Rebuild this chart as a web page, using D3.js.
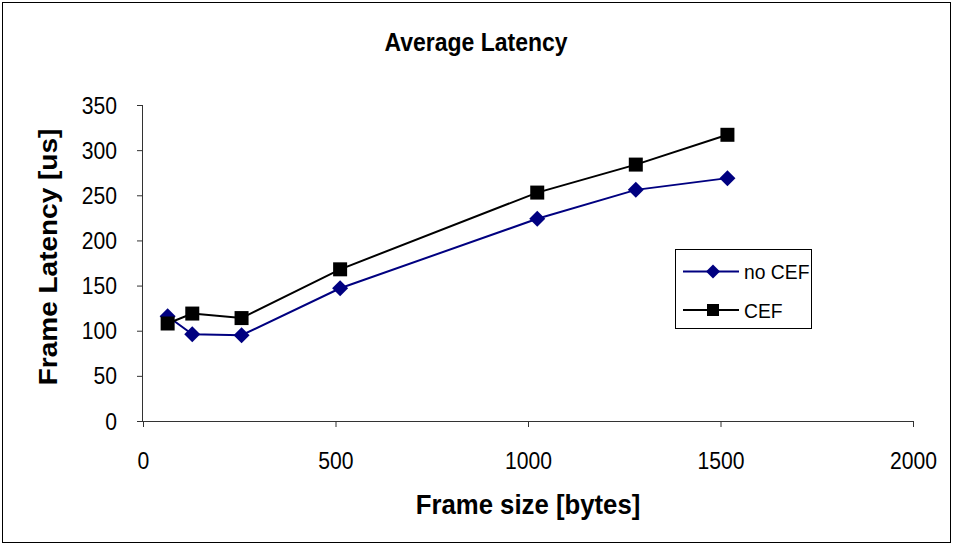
<!DOCTYPE html>
<html>
<head>
<meta charset="utf-8">
<script src="https://cdn.jsdelivr.net/npm/d3@7"></script>
<style>
  html, body { margin: 0; padding: 0; background: #fff; }
  svg text { font-family: Arial, "Liberation Sans", sans-serif; fill: #000; }
</style>
</head>
<body>
<div id="chart"></div>
<script>
// frame sizes in bytes
const frameSizes = [64, 128, 256, 512, 1024, 1280, 1518];
const noCef = [116, 96, 95, 147, 224, 256, 269];
const cef = [108, 119, 114, 168, 253, 284, 317];
const xTicks = [0, 500, 1000, 1500, 2000];
const yTicks = [0, 50, 100, 150, 200, 250, 300, 350];
const seriesNames = ["no CEF", "CEF"];

const W = 953, H = 545;
const plot = { left: 143, right: 913, top: 105, bottom: 421 };
const squeeze = 0.92; // the original text is a bit narrower than Arial

const svg = d3.select("#chart").append("svg")
  .attr("width", W)
  .attr("height", H);

// outer chart border
svg.append("rect")
  .attr("x", 2.5).attr("y", 2.5)
  .attr("width", W - 5).attr("height", H - 5)
  .attr("fill", "#fff")
  .attr("stroke", "#000")
  .attr("stroke-width", 1);

const x = d3.scaleLinear().domain([0, 2000]).range([plot.left, plot.right]);
const y = d3.scaleLinear().domain([0, 350]).range([plot.bottom, plot.top]);

svg.append("g")
  .attr("transform", `translate(0,${plot.bottom})`)
  .call(d3.axisBottom(x).tickValues(xTicks).tickSize(6).tickPadding(0).tickFormat(d3.format("d")))
  .call(g => g.select(".domain").attr("d", `M${plot.left},0.5H${plot.right}`).attr("stroke", "#333"))
  .call(g => g.selectAll(".tick line").attr("stroke", "#333"))
  .call(g => g.selectAll(".tick text")
    .attr("font-size", 23).attr("font-family", "Arial, 'Liberation Sans', sans-serif")
    .attr("dy", null).attr("y", 48)
    .attr("transform", `scale(${squeeze},1)`));

svg.append("g")
  .attr("transform", `translate(${plot.left},0)`)
  .call(d3.axisLeft(y).tickValues(yTicks).tickSize(6).tickPadding(0))
  .call(g => g.select(".domain").attr("d", `M-0.5,${plot.bottom}V${plot.top}`).attr("stroke", "#333"))
  .call(g => g.selectAll(".tick line").attr("stroke", "#333"))
  .call(g => g.selectAll(".tick text")
    .attr("font-size", 23).attr("font-family", "Arial, 'Liberation Sans', sans-serif")
    .attr("dy", null).attr("y", 8)
    .attr("x", -26 / squeeze)
    .attr("transform", `scale(${squeeze},1)`));

// titles
svg.append("text")
  .attr("transform", `translate(476,51) scale(${squeeze},1)`)
  .attr("text-anchor", "middle")
  .attr("font-size", 25).attr("font-weight", "bold")
  .text("Average Latency");

svg.append("text")
  .attr("transform", `translate(528,514) scale(${squeeze},1)`)
  .attr("text-anchor", "middle")
  .attr("font-size", 28).attr("font-weight", "bold")
  .text("Frame size [bytes]");

svg.append("text")
  .attr("transform", `translate(57,257) rotate(-90) scale(1,${squeeze})`)
  .attr("text-anchor", "middle")
  .attr("font-size", 28).attr("font-weight", "bold")
  .text("Frame Latency [us]");

const line = d3.line().x(d => x(d[0])).y(d => y(d[1]));
const diamond = r => `M0,${-r}L${r},0L0,${r}L${-r},0Z`;
const square = s => `M${-s / 2},${-s / 2}h${s}v${s}h${-s}Z`;

const series = [
  { name: seriesNames[0], values: noCef, color: "#000080", marker: diamond(8), legendMarker: diamond(7) },
  { name: seriesNames[1], values: cef, color: "#000000", marker: square(14), legendMarker: square(12) }
];

series.forEach(s => {
  const pts = frameSizes.map((f, i) => [f, s.values[i]]);
  svg.append("path")
    .datum(pts)
    .attr("fill", "none")
    .attr("stroke", s.color)
    .attr("stroke-width", 2)
    .attr("d", line);
  svg.append("g").selectAll("path")
    .data(pts)
    .join("path")
    .attr("transform", d => `translate(${x(d[0])},${y(d[1])})`)
    .attr("d", s.marker)
    .attr("fill", s.color);
});

// legend
const legend = svg.append("g");
legend.append("rect")
  .attr("x", 675.5).attr("y", 249.5)
  .attr("width", 136).attr("height", 79)
  .attr("fill", "#fff").attr("stroke", "#000");

series.forEach((s, i) => {
  const ly = 271.5 + i * 38.5;
  legend.append("line")
    .attr("x1", 683).attr("x2", 739)
    .attr("y1", ly).attr("y2", ly)
    .attr("stroke", s.color).attr("stroke-width", 2);
  legend.append("path")
    .attr("transform", `translate(713,${ly})`)
    .attr("d", s.legendMarker)
    .attr("fill", s.color);
  legend.append("text")
    .attr("transform", `translate(744,${ly + 7.5}) scale(${squeeze},1)`)
    .attr("font-size", 21)
    .text(s.name);
});
</script>
</body>
</html>
